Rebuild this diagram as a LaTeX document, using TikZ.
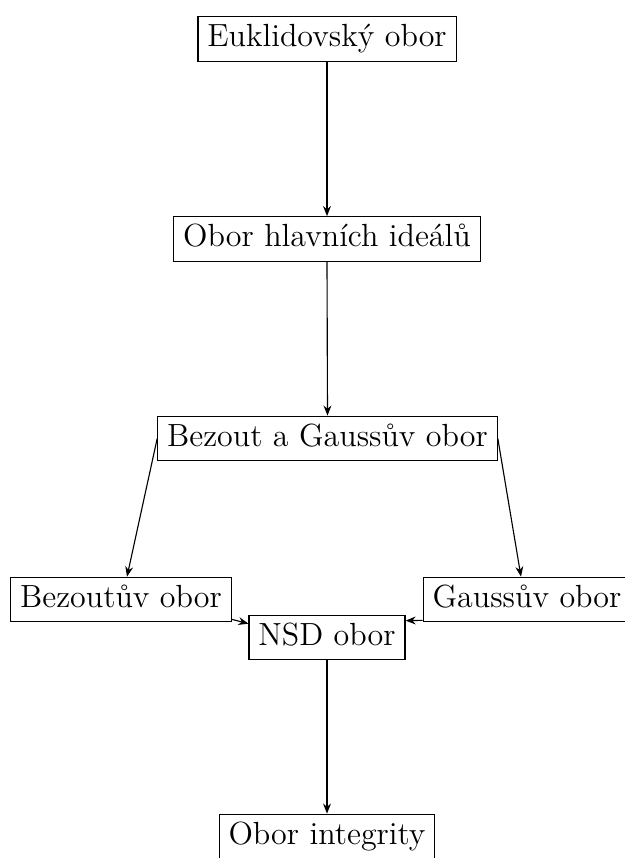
\documentclass[tikz,border=0pt]{standalone}
\usepackage{fontspec}
\usetikzlibrary{calc,arrows.meta}
\begin{document}
\begin{tikzpicture}[x=0.35587pt,y=-0.35587pt,
  box/.style={draw,rectangle,line width=0.4pt,font=\fontsize{11.4}{14}\selectfont,
    text height=7.3pt,text depth=1.9pt},
  arr/.style={-{Stealth[length=3.6pt,width=2.8pt]},line width=0.4pt}]
\clip (0,0) rectangle (625,858);
\useasboundingbox (0,0) rectangle (625,858);
\node[box] (E)   at (327,39)    {Euklidovský obor};
\node[box] (OHI) at (327,239)   {Obor hlavních ideálů};
\node[box] (BG)  at (327.5,438.5) {Bezout a Gaussův obor};
\node[box] (B)   at (121,599.5) {Bezoutův obor};
\node[box] (G)   at (527,599.5) {Gaussův obor};
\node[box] (NSD) at (327,637.5) {NSD obor};
\node[box] (OI)  at (327,836.5) {Obor integrity};
\draw[arr] (E.south) -- (OHI.north);
\draw[arr] (OHI.south) -- (BG.north);
\draw[arr] (BG.west) -- ($(B.north)+(6,0)$);
\draw[arr] (BG.east) -- ($(G.north)+(-6,0)$);
\draw[arr] ($(B.south east)+(0,-3)$) -- ($(NSD.north west)+(0,9)$);
\draw[arr] ($(G.south west)+(0,-2)$) -- ($(NSD.north east)+(0,6)$);
\draw[arr] (NSD.south) -- (OI.north);
\end{tikzpicture}
\end{document}
